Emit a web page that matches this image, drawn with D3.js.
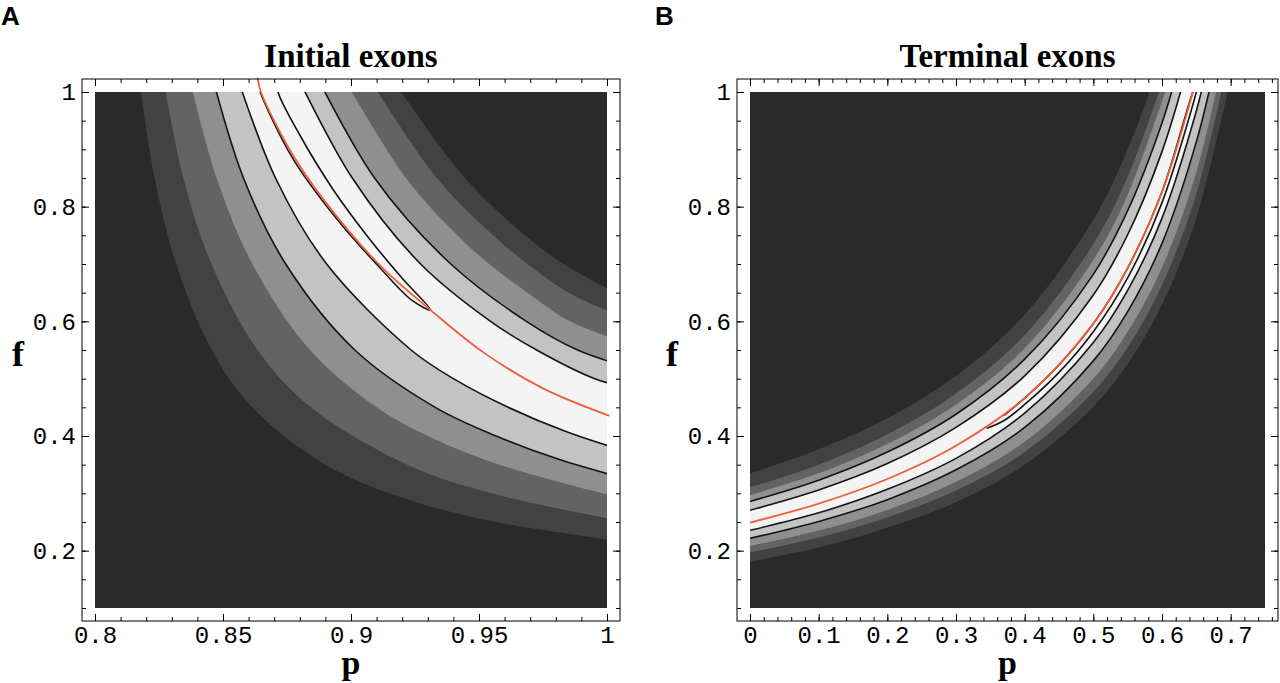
<!DOCTYPE html>
<html>
<head>
<meta charset="utf-8">
<script src="https://cdn.jsdelivr.net/npm/d3@7"></script>
<style>
  body { margin: 0; background: #fff; }
  svg { display: block; }
</style>
</head>
<body>
<svg width="1280" height="683"></svg>
<script>
// ---- data ----
const fTicks = [0.2, 0.4, 0.6, 0.8, 1];
const initialTicks = [0.8, 0.85, 0.9, 0.95, 1];
const terminalTicks = [0, 0.1, 0.2, 0.3, 0.4, 0.5, 0.6, 0.7];

// Initial exons: contour curves as [p, f], outer band edge -> inner
const initialLower = [
  [[0.8166,1.04],[0.8233,0.85],[0.8317,0.70],[0.8456,0.55],[0.8614,0.45],[0.89,0.35],[0.9216,0.29],[0.9567,0.25],[1.01,0.2136]],
  [[0.8260,1.04],[0.8345,0.85],[0.8455,0.70],[0.8635,0.55],[0.8843,0.45],[0.922,0.35],[0.955,0.30],[1.01,0.248]],
  [[0.8360,1.04],[0.8475,0.85],[0.8615,0.70],[0.8840,0.55],[0.91,0.45],[0.93,0.40],[0.958,0.35],[1.01,0.287]],
  [[0.8450,1.04],[0.8580,0.85],[0.8745,0.70],[0.9015,0.55],[0.9329,0.45],[0.9567,0.40],[0.98,0.361],[1.01,0.322]],
  [[0.8545,1.04],[0.8705,0.85],[0.8905,0.70],[0.9235,0.55],[0.94,0.50],[0.9614,0.45],[0.985,0.406],[1.01,0.370]]
];
const initialUpper = [
  [[0.9135,1.04],[0.9445,0.85],[0.9680,0.75],[0.9830,0.70],[1.01,0.635]],
  [[0.9048,1.04],[0.9335,0.85],[0.9555,0.75],[0.9690,0.70],[0.9850,0.65],[1.01,0.600]],
  [[0.8950,1.04],[0.9215,0.85],[0.9415,0.75],[0.9540,0.70],[0.9690,0.65],[0.9855,0.60],[1.01,0.559]],
  [[0.8852,1.04],[0.9092,0.85],[0.9390,0.70],[0.9685,0.60],[0.9885,0.55],[1.01,0.518]],
  [[0.8776,1.04],[0.9005,0.85],[0.9272,0.70],[0.9545,0.60],[0.9725,0.55],[0.9952,0.50],[1.01,0.482]]
];
const initialRed = [[0.8635,1.025],[0.8648,1.0],[0.878,0.885],[0.895,0.78],[0.913,0.69],[0.931,0.62],[0.952,0.545],[0.975,0.483],[1.001,0.435]];
const initialTongue = [[0.8712,1.02],[0.8715,1.0],[0.880,0.925],[0.893,0.83],[0.907,0.745],[0.92,0.675],[0.931,0.62],
  [0.924,0.636],[0.912,0.690],[0.894,0.781],[0.877,0.886],[0.8645,1.0],[0.8632,1.02]];

// Terminal exons: upper-left side and lower-right side, outer -> inner
const terminalUpper = [
  [[-0.02,0.327],[0.1,0.377],[0.2,0.431],[0.3,0.505],[0.4,0.612],[0.5,0.777],[0.55,0.90],[0.5906,1.03]],
  [[-0.02,0.303],[0.1,0.350],[0.2,0.403],[0.3,0.474],[0.4,0.576],[0.5,0.735],[0.55,0.852],[0.604,1.03]],
  [[-0.02,0.290],[0.1,0.335],[0.2,0.386],[0.3,0.455],[0.4,0.553],[0.5,0.707],[0.55,0.821],[0.613,1.03]],
  [[-0.02,0.279],[0.1,0.323],[0.2,0.372],[0.3,0.438],[0.4,0.534],[0.5,0.682],[0.55,0.793],[0.6,0.946],[0.621,1.03]],
  [[-0.02,0.264],[0.1,0.306],[0.2,0.352],[0.3,0.415],[0.4,0.505],[0.5,0.646],[0.55,0.751],[0.6,0.896],[0.634,1.03]]
];
const terminalLower = [
  [[-0.02,0.176],[0.1,0.2055],[0.2,0.240],[0.3,0.2844],[0.4,0.3497],[0.5,0.451],[0.55,0.526],[0.6,0.629],[0.65,0.780],[0.701,1.03]],
  [[-0.02,0.192],[0.1,0.223],[0.2,0.258],[0.3,0.305],[0.4,0.372],[0.5,0.477],[0.55,0.555],[0.6,0.663],[0.65,0.822],[0.692,1.03]],
  [[-0.02,0.203],[0.1,0.235],[0.2,0.271],[0.3,0.320],[0.4,0.390],[0.5,0.500],[0.55,0.582],[0.6,0.694],[0.65,0.860],[0.684,1.03]],
  [[-0.02,0.216],[0.1,0.251],[0.2,0.289],[0.3,0.341],[0.4,0.415],[0.5,0.531],[0.55,0.617],[0.6,0.736],[0.65,0.913],[0.674,1.03]],
  [[-0.02,0.230],[0.1,0.266],[0.2,0.307],[0.3,0.361],[0.4,0.440],[0.5,0.563],[0.55,0.654],[0.6,0.780],[0.65,0.967],[0.663,1.03]]
];
const terminalRed = [[0,0.249],[0.1,0.282],[0.2,0.325],[0.3,0.383],[0.4,0.466],[0.5,0.596],[0.55,0.693],[0.6,0.826],[0.645,1.0]];
const terminalTongue = [[0.3447,0.4133],[0.37,0.427],[0.4,0.455],[0.45,0.511],[0.5,0.582],[0.55,0.676],[0.6,0.807],[0.656,1.03],
  [0.645,1.0],[0.6,0.826],[0.55,0.693],[0.5,0.596],[0.45,0.524],[0.4,0.466],[0.37,0.436]];

// ---- style ----
const shades = ['#2a2a2a', '#424242', '#636363', '#8f8f8f', '#c3c3c3', '#f4f4f4'];
const contourColor = '#141414';
const redColor = '#ef5d3c';
const monoFont = "'Liberation Mono', 'DejaVu Sans Mono', monospace";
const serifFont = "'Liberation Serif', 'DejaVu Serif', serif";

const svg = d3.select('svg');
const plotTop = 92, plotBottom = 608, pad = 13;

const drawPanel = (cfg) => {
  const x = d3.scaleLinear().domain(cfg.xDomain).range(cfg.xRange);
  const y = d3.scaleLinear().domain([0.1, 1]).range([plotBottom, plotTop]);
  const frame = {
    left: cfg.xRange[0] - pad, right: cfg.xRange[1] + pad,
    top: plotTop - pad, bottom: plotBottom + pad
  };
  const g = svg.append('g');

  //clip to plot area
  g.append('clipPath').attr('id', cfg.id)
    .append('rect')
      .attr('x', cfg.xRange[0]).attr('y', plotTop)
      .attr('width', cfg.xRange[1] - cfg.xRange[0])
      .attr('height', plotBottom - plotTop);

  const line = d3.line()
    .x(d => x(d[0])).y(d => y(d[1]))
    .curve(d3.curveCatmullRom.alpha(0.5));
  const band = (a, b) => line(a) + line(b.slice().reverse()).replace(/^M/, 'L') + 'Z';

  const plot = g.append('g').attr('clip-path', `url(#${cfg.id})`);

  //darkest background
  plot.append('rect')
    .attr('x', cfg.xRange[0]).attr('y', plotTop)
    .attr('width', cfg.xRange[1] - cfg.xRange[0])
    .attr('height', plotBottom - plotTop)
    .attr('fill', shades[0]);

  //nested bands, outer to inner
  cfg.sideA.forEach((c, i) => {
    plot.append('path')
      .attr('d', band(c, cfg.sideB[i]))
      .attr('fill', shades[i + 1]);
  });

  //black contour lines on the two inner edges of each side
  [3, 4].forEach(i => {
    [cfg.sideA[i], cfg.sideB[i]].forEach(c => {
      plot.append('path').attr('d', line(c))
        .attr('fill', 'none').attr('stroke', contourColor).attr('stroke-width', 1.6);
    });
  });

  plot.append('path').attr('d', line(cfg.tongue))
    .attr('fill', 'none').attr('stroke', contourColor).attr('stroke-width', 1.6)
    .attr('stroke-linejoin', 'miter');

  //red line may run up to the frame
  g.append('path').attr('d', line(cfg.red))
    .attr('fill', 'none').attr('stroke', redColor).attr('stroke-width', 1.8);

  //frame ticks (Mathematica style, pointing inwards)
  const fMinor = d3.range(0.1, 1.0001, 0.05);
  const axes = [
    [d3.axisBottom(x), frame.bottom, true, 'x'],
    [d3.axisTop(x), frame.top, false, 'x'],
    [d3.axisLeft(y), frame.left, true, 'y'],
    [d3.axisRight(y), frame.right, false, 'y']
  ];
  axes.forEach(([ax, pos, labels, dim]) => {
    const major = dim === 'x' ? cfg.ticks : fTicks;
    const minor = dim === 'x' ? cfg.minor : fMinor;
    const tr = dim === 'x' ? `translate(0,${pos})` : `translate(${pos},0)`;
    g.append('g').attr('transform', tr)
      .call(ax.tickValues(minor).tickSize(-4).tickFormat(''))
      .call(s => s.select('.domain').remove());
    const ga = g.append('g').attr('transform', tr)
      .call(ax.tickValues(major).tickSize(-7).tickPadding(dim === 'x' ? 5 : 6)
        .tickFormat(labels ? (d => String(d)) : ''))
      .call(s => s.select('.domain').remove());
    ga.attr('font-family', monoFont).attr('font-size', 24);
  });

  g.append('rect')
    .attr('x', frame.left).attr('y', frame.top)
    .attr('width', frame.right - frame.left)
    .attr('height', frame.bottom - frame.top)
    .attr('fill', 'none').attr('stroke', '#000').attr('stroke-width', 1);

  //title, axis names, panel letter
  const cx = (cfg.xRange[0] + cfg.xRange[1]) / 2;
  g.append('text').attr('x', cx).attr('y', 67)
    .attr('text-anchor', 'middle')
    .attr('font-family', serifFont).attr('font-weight', 'bold').attr('font-size', 33)
    .text(cfg.title);
  g.append('text').attr('x', cx).attr('y', 674)
    .attr('text-anchor', 'middle')
    .attr('font-family', serifFont).attr('font-weight', 'bold').attr('font-size', 34)
    .text('p');
  g.append('text').attr('x', cfg.fX).attr('y', 366)
    .attr('text-anchor', 'middle')
    .attr('font-family', serifFont).attr('font-weight', 'bold').attr('font-size', 36)
    .text('f');
  g.append('text').attr('x', cfg.letterX).attr('y', 25)
    .attr('font-family', "'Liberation Sans', Arial, sans-serif").attr('font-weight', 'bold').attr('font-size', 26)
    .text(cfg.letter);
};

drawPanel({
  id: 'clipA', xDomain: [0.8, 1], xRange: [95, 607],
  ticks: initialTicks, minor: d3.range(0.8, 1.0001, 0.01),
  sideA: initialLower, sideB: initialUpper,
  red: initialRed, tongue: initialTongue,
  title: 'Initial exons', letter: 'A', letterX: 1, fX: 18
});

drawPanel({
  id: 'clipB', xDomain: [0, 0.75], xRange: [750, 1265],
  ticks: terminalTicks, minor: d3.range(0, 0.7601, 0.02),
  sideA: terminalUpper, sideB: terminalLower,
  red: terminalRed, tongue: terminalTongue,
  title: 'Terminal exons', letter: 'B', letterX: 655, fX: 672
});
</script>
</body>
</html>
